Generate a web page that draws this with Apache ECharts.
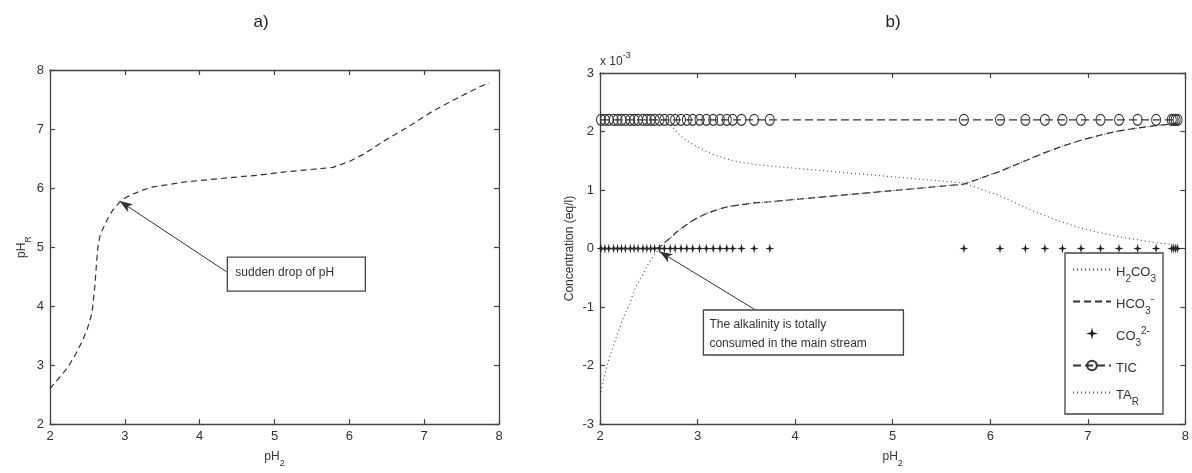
<!DOCTYPE html>
<html>
<head>
<meta charset="utf-8">
<script src="https://cdn.jsdelivr.net/npm/echarts@6/dist/echarts.min.js"></script>
<style>html,body{margin:0;padding:0;background:#fff}#c{width:1192px;height:473px}</style>
</head>
<body>
<div id="c"></div>
<script>
// ---- Panel a) : pH_R versus pH_2 ----
const pH2_a = [2.00,2.10,2.20,2.27,2.35,2.44,2.50,2.56,2.58,2.60,2.62,2.64,2.67,2.71,2.77,2.84,2.93,3.00,3.11,3.25,3.38,3.60,3.78,4.10,4.44,4.80,5.11,5.45,5.78,6.00,6.20,6.44,6.67,6.89,7.11,7.33,7.56,7.75,7.87];
const pHR     = [2.60,2.75,2.90,3.03,3.20,3.43,3.62,3.87,4.10,4.35,4.70,5.00,5.20,5.32,5.48,5.63,5.76,5.83,5.90,5.97,6.02,6.06,6.10,6.14,6.18,6.22,6.27,6.31,6.35,6.45,6.58,6.78,6.95,7.12,7.30,7.45,7.60,7.72,7.78];

// ---- Panel b) : concentrations (units of 1e-3 eq/l) versus pH_2 ----
const pH2_b = [2.01,2.05,2.09,2.14,2.18,2.22,2.26,2.31,2.35,2.39,2.44,2.48,2.52,2.56,2.61,2.66,2.72,2.77,2.83,2.89,2.95,3.02,3.09,3.16,3.23,3.30,3.36,3.45,3.58,3.74,
               5.73,6.10,6.36,6.56,6.74,6.93,7.13,7.32,7.51,7.70,7.86,7.88,7.90,7.92];
const H2CO3 = [2.2,2.2,2.2,2.2,2.2,2.2,2.2,2.2,2.2,2.2,2.2,2.2,2.2,2.2,2.2,2.2,2.15,2.02,1.92,1.84,1.78,1.72,1.66,1.61,1.57,1.53,1.50,1.47,1.44,1.41,
               1.12,0.90,0.70,0.56,0.45,0.35,0.27,0.20,0.15,0.10,0.07,0.06,0.06,0.05];
const HCO3  = [0,0,0,0,0,0,0,0,0,0,0,0,0,0,0.02,0.10,0.18,0.26,0.34,0.41,0.48,0.54,0.60,0.64,0.68,0.71,0.73,0.75,0.78,0.80,
               1.10,1.32,1.50,1.64,1.75,1.85,1.94,2.01,2.06,2.10,2.13,2.14,2.14,2.15];
const CO3   = [0,0,0,0,0,0,0,0,0,0,0,0,0,0,0,0,0,0,0,0,0,0,0,0,0,0,0,0,0,0,
               0,0,0,0,0,0,0,0,0,0,0,0,0,0];
const TIC   = [2.2,2.2,2.2,2.2,2.2,2.2,2.2,2.2,2.2,2.2,2.2,2.2,2.2,2.2,2.2,2.2,2.2,2.2,2.2,2.2,2.2,2.2,2.2,2.2,2.2,2.2,2.2,2.2,2.2,2.2,
               2.2,2.2,2.2,2.2,2.2,2.2,2.2,2.2,2.2,2.2,2.2,2.2,2.2,2.2];
const TAR   = [-2.45,-2.15,-1.90,-1.65,-1.45,-1.27,-1.10,-0.92,-0.72,-0.58,-0.44,-0.30,-0.20,-0.10,0.00,0.10,0.18,0.26,0.34,0.41,0.48,0.54,0.60,0.64,0.68,0.71,0.73,0.75,0.78,0.80,
               1.10,1.32,1.50,1.64,1.75,1.85,1.94,2.01,2.06,2.10,2.13,2.14,2.14,2.15];

const xTicks = [2,3,4,5,6,7,8];
const yTicksA = [2,3,4,5,6,7,8];
const yTicksB = [-3,-2,-1,0,1,2,3];

const legendNames = ['H2CO3','HCO3-','CO3 2-','TIC','TA_R'];
const legendRich = {
  'H2CO3': '{n|H}{s|2}{n|CO}{s|3}',
  'HCO3-': '{n|HCO}{s|3}{p|-}',
  'CO3 2-': '{n|CO}{s|3}{p|2-}',
  'TIC': '{n|TIC}',
  'TA_R': '{n|TA}{s|R}'
};

const zip = (xs, ys) => xs.map((x, i) => [x, ys[i]]);

const FONT = '"Liberation Sans", Arial, sans-serif';
const AX = '#444';
const richStyles = {
  n: {fontFamily: FONT, fontSize: 12, color: '#333', verticalAlign: 'top', lineHeight: 14, padding: [3,0,0,0]},
  s: {fontFamily: FONT, fontSize: 9, color: '#333', verticalAlign: 'top', lineHeight: 10, padding: [11,0,0,0]},
  p: {fontFamily: FONT, fontSize: 9, color: '#333', verticalAlign: 'top', lineHeight: 10, padding: [0,0,0,0]}
};
const legRich = {
  n: {fontFamily: FONT, fontSize: 13, color: '#333', verticalAlign: 'top', lineHeight: 15, padding: [4,0,0,0]},
  s: {fontFamily: FONT, fontSize: 10, color: '#333', verticalAlign: 'top', lineHeight: 11, padding: [12,0,0,0]},
  p: {fontFamily: FONT, fontSize: 10, color: '#333', verticalAlign: 'top', lineHeight: 11, padding: [0,0,0,0]}
};

function axisBase(extra) {
  return Object.assign({
    type: 'value',
    min: 2, max: 8, interval: 1,
    axisLine: {show: true, onZero: false, lineStyle: {color: AX, width: 1.3}},
    axisTick: {show: true, inside: true, length: 5, lineStyle: {color: AX, width: 1.2}},
    splitLine: {show: false},
    axisLabel: {color: '#333', fontFamily: FONT, fontSize: 13, margin: 6}
  }, extra);
}

const chart = echarts.init(document.getElementById('c'), null, {renderer: 'canvas'});
const NOFILL = {color: 'rgba(0,0,0,0)', borderWidth: 0};

const option = {
  animation: false,
  backgroundColor: '#fff',
  grid: [
    {left: 50, top: 70, width: 449, height: 359},
    {left: 600, top: 73, width: 587, height: 352}
  ],
  xAxis: [
    axisBase({gridIndex: 0, position: 'bottom', name: '{n|pH}{s|2}', nameLocation: 'middle', nameGap: 20,
      nameTextStyle: {rich: richStyles}}),
    axisBase({gridIndex: 0, position: 'top', axisLabel: {show: false}}),
    axisBase({gridIndex: 1, position: 'bottom', name: '{n|pH}{s|2}', nameLocation: 'middle', nameGap: 20,
      nameTextStyle: {rich: richStyles}}),
    axisBase({gridIndex: 1, position: 'top', axisLabel: {show: false}})
  ],
  yAxis: [
    axisBase({gridIndex: 0, position: 'left', name: '{n|pH}{s|R}', nameLocation: 'middle', nameGap: 20,
      nameTextStyle: {rich: richStyles}}),
    axisBase({gridIndex: 0, position: 'right', axisLabel: {show: false}}),
    axisBase({gridIndex: 1, position: 'left', min: -3, max: 3, interval: 1, name: 'Concentration (eq/l)', nameLocation: 'middle', nameGap: 24,
      nameTextStyle: {fontFamily: FONT, fontSize: 12, color: '#333'}}),
    axisBase({gridIndex: 1, position: 'right', min: -3, max: 3, interval: 1, axisLabel: {show: false}})
  ],
  legend: {
    data: legendNames,
    orient: 'vertical',
    left: 1065, top: 253,
    itemWidth: 38, itemHeight: 12, itemGap: 10,
    padding: [9, 7, 7, 7],
    backgroundColor: '#fff',
    borderColor: '#444', borderWidth: 1.3,
    selectedMode: false,
    formatter: name => legendRich[name],
    textStyle: {rich: legRich, fontFamily: FONT, fontSize: 13, color: '#333'}
  },
  series: [
    {
      name: 'pHR', type: 'line', xAxisIndex: 0, yAxisIndex: 0,
      data: zip(pH2_a, pHR), symbol: 'none',
      lineStyle: {color: '#333', width: 1.2, type: [6, 4]},
      markLine: {
        silent: true, symbol: ['none', 'arrow'], symbolSize: [7, 13],
        label: {show: false},
        lineStyle: {color: '#333', width: 1, type: 'solid'},
        data: [[{coord: [4.36, 4.58]}, {coord: [2.93, 5.78]}]]
      }
    },
    {
      name: 'H2CO3', type: 'line', xAxisIndex: 2, yAxisIndex: 2,
      data: zip(pH2_b, H2CO3), symbol: 'none',
      itemStyle: NOFILL,
      lineStyle: {color: '#555', width: 1.2, type: [1, 3]}
    },
    {
      name: 'HCO3-', type: 'line', xAxisIndex: 2, yAxisIndex: 2,
      data: zip(pH2_b, HCO3), symbol: 'none',
      itemStyle: NOFILL,
      lineStyle: {color: '#333', width: 1.2, type: [7, 4]}
    },
    {
      name: 'CO3 2-', type: 'scatter', xAxisIndex: 2, yAxisIndex: 2,
      data: zip(pH2_b, CO3),
      symbol: 'path://M0,-5 L1,-1 L5,0 L1,1 L0,5 L-1,1 L-5,0 L-1,-1 Z',
      symbolSize: [9, 10],
      itemStyle: {color: '#222', opacity: 1}
    },
    {
      name: 'TIC', type: 'line', xAxisIndex: 2, yAxisIndex: 2,
      data: zip(pH2_b, TIC), symbol: 'circle', symbolSize: [9, 11], showAllSymbol: true,
      itemStyle: {color: 'rgba(0,0,0,0)', borderColor: '#333', borderWidth: 1.1},
      lineStyle: {color: '#333', width: 1.2, type: [8, 4]}
    },
    {
      name: 'TA_R', type: 'line', xAxisIndex: 2, yAxisIndex: 2,
      data: zip(pH2_b, TAR), symbol: 'none', z: 1,
      itemStyle: NOFILL,
      lineStyle: {color: '#555', width: 1.2, type: [1, 3]},
      markLine: {
        silent: true, symbol: ['none', 'arrow'], symbolSize: [7, 13],
        label: {show: false},
        lineStyle: {color: '#333', width: 1, type: 'solid'},
        data: [[{coord: [3.585, -1.04]}, {coord: [2.61, -0.05]}]]
      }
    }
  ]
};
chart.setOption(option);

// annotation boxes anchored in data space
const pA = chart.convertToPixel({xAxisIndex: 0, yAxisIndex: 0}, [4.37, 4.83]);
const pB = chart.convertToPixel({xAxisIndex: 2, yAxisIndex: 2}, [3.06, -1.05]);
const pC = chart.convertToPixel({xAxisIndex: 2, yAxisIndex: 2}, [2, 3]);

chart.setOption({
  graphic: [
    {type: 'text', x: 261, y: 14, style: {text: 'a)', font: '17px ' + FONT, fill: '#222', align: 'center'}},
    {type: 'text', x: 893, y: 14, style: {text: 'b)', font: '17px ' + FONT, fill: '#222', align: 'center'}},
    {type: 'group', x: pA[0], y: pA[1], children: [
      {type: 'rect', shape: {x: 0, y: 0, width: 138, height: 34}, style: {fill: '#fff', stroke: '#444', lineWidth: 1.3}},
      {type: 'text', x: 8, y: 10, style: {text: 'sudden drop of pH', font: '12px ' + FONT, fill: '#333'}}
    ]},
    {type: 'group', x: pB[0], y: pB[1], children: [
      {type: 'rect', shape: {x: 0, y: 0, width: 200, height: 45}, style: {fill: '#fff', stroke: '#444', lineWidth: 1.3}},
      {type: 'text', x: 6, y: 5, style: {text: 'The alkalinity is totally\nconsumed in the main stream', font: '12px ' + FONT, fill: '#333', lineHeight: 19}}
    ]},
    {type: 'text', x: pC[0], y: pC[1] - 22, style: {
      text: '{n|x 10}{p|-3}', rich: {
        n: {fontFamily: FONT, fontSize: 12, fill: '#333', verticalAlign: 'top', lineHeight: 14, padding: [5,0,0,0]},
        p: {fontFamily: FONT, fontSize: 9, fill: '#333', verticalAlign: 'top', lineHeight: 10}
      }}}
  ]
});
</script>
</body>
</html>
